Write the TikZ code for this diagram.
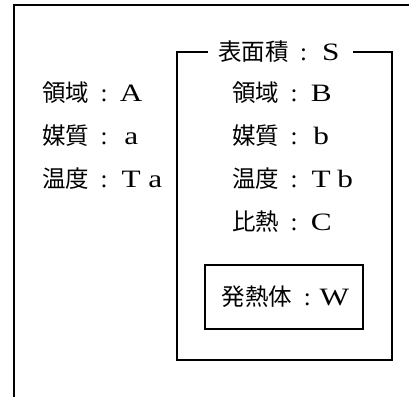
\documentclass[tikz,border=0pt]{standalone}
\usepackage{fontspec}
\setmainfont{Liberation Serif}[FakeStretch=1.25]
\newfontfamily\plainserif{Liberation Serif}
\newfontfamily\cjk{Noto Sans CJK JP}
\newcommand{\cell}[1]{\makebox[24pt][c]{#1}}
\newcommand{\kv}[2]{{\fontsize{23.5}{26}\selectfont\cjk #1}\makebox[30pt][c]{\plainserif :}#2}
\tikzset{
  lbl/.style={anchor=west, inner sep=0pt, font=\fontsize{25}{28}\selectfont},
  frame/.style={line width=1.8pt, line cap=rect},
  box/.style={line width=1.2pt},
}
\begin{document}
\begin{tikzpicture}[x=1pt,y=-1pt]
\useasboundingbox (0,0) rectangle (409,396);
% outer frame
\coordinate (otr) at (409,5);
\coordinate (otl) at (14,5);
\coordinate (obl) at (14,396);
\draw[frame] (otr) -- (otl) -- (obl);
% left column
\node[lbl] (la) at (42,93) {\kv{領域}{\cell{A}}};
\node[lbl] (lb) at (42,136) {\kv{媒質}{\cell{a}}};
\node[lbl] (lc) at (42,179) {\kv{温度}{\cell{T}\cell{a}}};
% inner region
\node[lbl, inner xsep=10pt] (title) at (208,52) {\kv{表面積}{\cell{S}}};
\coordinate (itl) at (177,52);
\coordinate (ibl) at (177,360);
\coordinate (ibr) at (392,360);
\coordinate (itr) at (392,52);
\draw[box] (title.west) -- (itl) -- (ibl) -- (ibr) -- (itr) -- (title.east);
\node[lbl] (ra) at (232,93) {\kv{領域}{\cell{B}}};
\node[lbl] (rb) at (232,136) {\kv{媒質}{\cell{b}}};
\node[lbl] (rc) at (232,179) {\kv{温度}{\cell{T}\cell{b}}};
\node[lbl] (rd) at (232,222) {\kv{比熱}{\cell{C}}};
% heater
\node[lbl, anchor=center, draw, box, minimum width=158pt, minimum height=64pt] (heater) at (284,297) {\kv{発熱体}{\cell{W}}};
\end{tikzpicture}
\end{document}
